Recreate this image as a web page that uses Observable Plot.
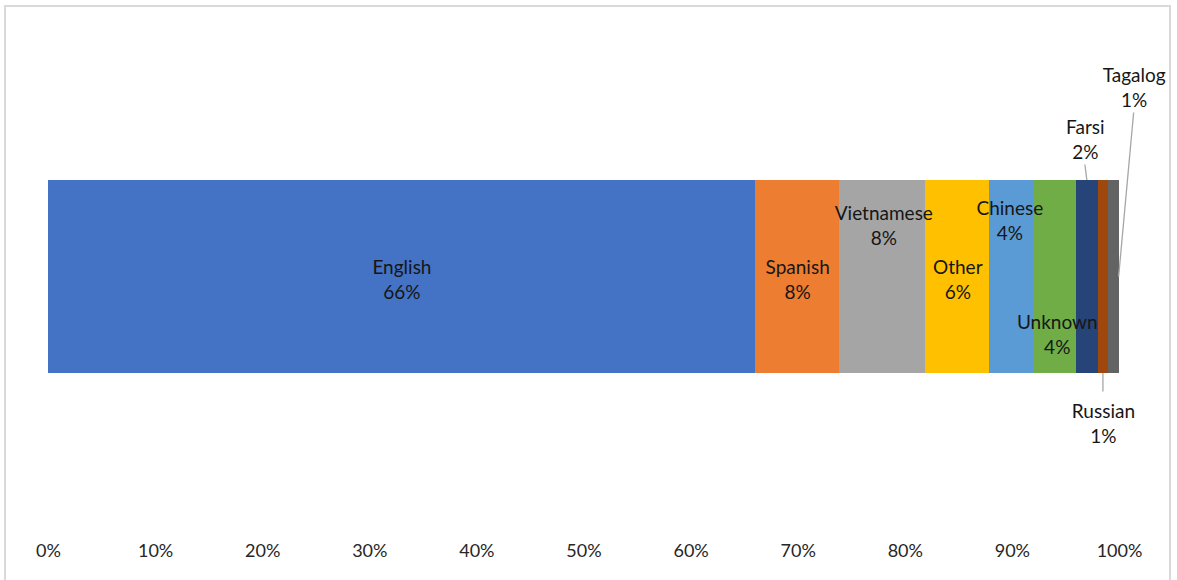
<!DOCTYPE html>
<html>
<head>
<meta charset="utf-8">
<script src="https://cdn.jsdelivr.net/npm/d3@7"></script>
<script src="https://cdn.jsdelivr.net/npm/@observablehq/plot@0.6"></script>
<style>
  html, body { margin: 0; padding: 0; background: #fff; }
  #wrap { position: relative; width: 1177px; height: 580px; overflow: hidden; }
  #frame { position: absolute; left: 4px; top: 5px; width: 1167px; height: 640px;
           border: 2px solid #d9d9d9; box-sizing: border-box; pointer-events: none; }
</style>
</head>
<body>
<div id="wrap"><div id="frame"></div></div>
<script>
// ---- data ----
const languages = ["English", "Spanish", "Vietnamese", "Other", "Chinese", "Unknown", "Farsi", "Russian", "Tagalog"];
const shares = [66.0, 7.9, 8.0, 6.0, 4.1, 4.0, 2.0, 1.0, 1.0];
const xTicks = [0, 10, 20, 30, 40, 50, 60, 70, 80, 90, 100];

// ---- styles ----
const colors = ["#4472C4", "#ED7D31", "#A5A5A5", "#FFC000", "#5B9BD5", "#70AD47", "#264478", "#9E480E", "#636363"];
// label offsets (px) from segment centre: [dx, dy]
const labelOffsets = [[0, 1], [0, 1], [1, -53], [0, 1], [-2, -58], [2, 56], [-2, -139], [0, 145], [20, -191]];
// leader lines: [labelEdge ("top"/"bottom"), barAnchor ("top"/"bottom"/"middle"), barEndDx]
const leaders = [null, null, null, null, null, null, ["bottom", "top", 0], ["top", "bottom", 0], ["bottom", "middle", 5]];

const rows = languages.map((lang, i) => ({
  lang, share: shares[i], label: `${lang}\n${Math.round(shares[i])}%`, i
}));
// cumulative start for each segment
let acc = 0;
rows.forEach(r => { r.start = acc; acc += r.share; r.mid = r.start + r.share / 2; });

const leaderMark = (index, scales, values, dims) => {
  const g = d3.create("svg:g");
  const yTop = dims.marginTop, yBot = dims.height - dims.marginBottom, yMid = (yTop + yBot) / 2;
  const halfBlock = 27;
  rows.forEach((r, i) => {
    const L = leaders[i];
    if (!L) return;
    const [dx, dy] = labelOffsets[i];
    const cx = scales.x(r.mid);
    const lx = cx + dx, ly = yMid + dy + (L[0] === "bottom" ? halfBlock : -halfBlock - 3);
    const by = L[1] === "top" ? yTop : L[1] === "bottom" ? yBot : yMid;
    g.append("line")
      .attr("x1", lx).attr("y1", ly)
      .attr("x2", cx + L[2]).attr("y2", by)
      .attr("stroke", "#a6a6a6").attr("stroke-width", 1.3);
  });
  return g.node();
};

const labelMarks = rows.map((r, i) => Plot.text([r], {
  x: "mid", y: () => "all", text: "label",
  dx: labelOffsets[i][0], dy: labelOffsets[i][1],
  lineAnchor: "middle", lineHeight: 1.32, fill: "#161616", fontSize: 19
}));

const chart = Plot.plot({
  width: 1177,
  height: 580,
  marginLeft: 48,
  marginRight: 58,
  marginTop: 180,
  marginBottom: 207,
  style: { fontFamily: "Lato, 'Open Sans', sans-serif", fontSize: "19px", background: "transparent", color: "#222" },
  x: { domain: [0, 100], axis: null },
  y: { domain: ["all"], axis: null, padding: 0 },
  color: { domain: languages, range: colors },
  marks: [
    Plot.barX(rows, { x1: "start", x2: d => d.start + d.share, y: () => "all", fill: "lang", inset: 0, shapeRendering: "crispEdges" }),
    Plot.axisX(xTicks, { anchor: "bottom", tickSize: 0, tickPadding: 171, tickFormat: d => d + "%", fontSize: 18, fill: "#262626" }),
    leaderMark,
    ...labelMarks
  ]
});
document.getElementById("wrap").prepend(chart);
</script>
</body>
</html>
